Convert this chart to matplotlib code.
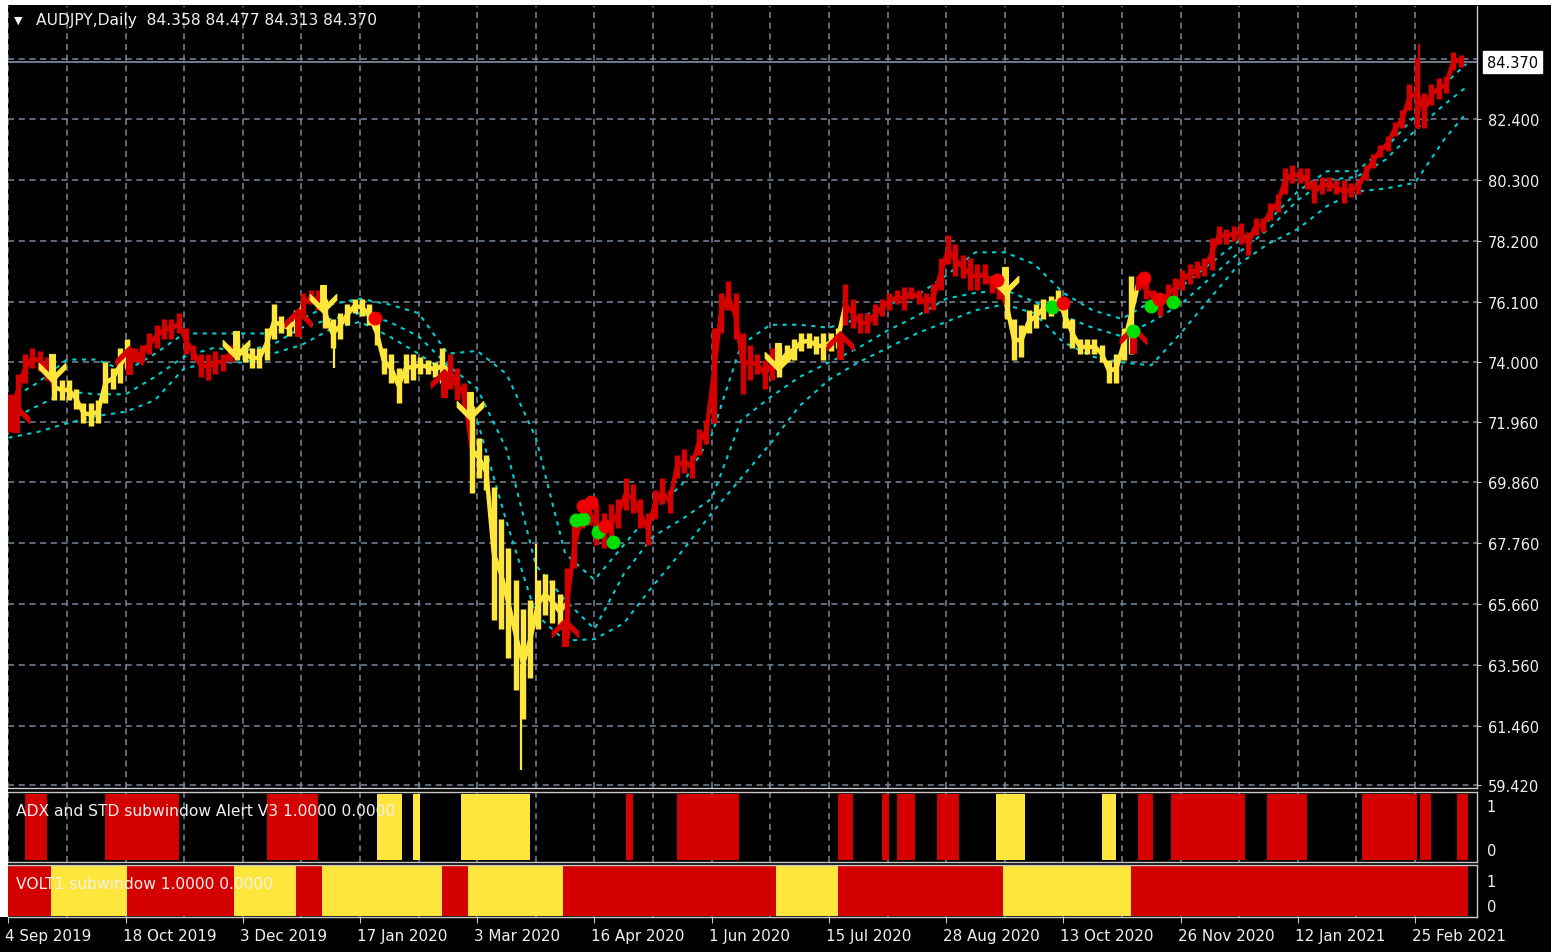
import matplotlib.pyplot as plt
from matplotlib.path import Path
from matplotlib.patches import Rectangle
from matplotlib.collections import LineCollection
from matplotlib.transforms import ScaledTranslation

# AUDJPY daily -- one high / low pair for every two trading days (bar = 2*i)
high = [72.9, 73.6, 74.3, 74.5, 74.4, 74.2, 73.6, 73.4, 73.4, 73.1,
        72.6, 72.6, 72.7, 74.0, 73.8, 74.5, 74.8, 74.5, 74.6, 75.0,
        75.3, 75.5, 75.5, 75.7, 75.2, 74.6, 74.3, 74.3, 74.4, 74.3,
        74.6, 74.8, 74.6, 74.5, 74.5, 75.2, 76.0, 75.6, 75.5, 75.8,
        76.4, 76.5, 76.5, 76.2, 75.5, 75.7, 76.0, 76.2, 76.2, 76.0,
        75.5, 74.5, 74.3, 73.8, 74.3, 74.3, 74.2, 74.1, 74.0, 74.5,
        74.3, 73.8, 73.3, 72.5, 71.4, 70.8, 69.7, 68.6, 67.6, 66.5,
        65.5, 65.8, 66.5, 66.7, 66.5, 66.0, 66.9, 68.4, 69.1, 69.3,
        69.1, 68.8, 69.1, 69.3, 70.0, 69.8, 69.3, 68.8, 69.6, 70.0,
        69.6, 70.8, 71.0, 70.8, 71.7, 72.0, 75.2, 76.4, 76.8, 76.4,
        75.0, 74.6, 74.3, 74.1, 74.5, 74.5, 74.6, 74.8, 75.0, 75.0,
        74.9, 75.0, 75.0, 75.2, 76.7, 76.2, 75.7, 75.7, 76.0, 76.2,
        76.4, 76.5, 76.6, 76.6, 76.5, 76.4, 76.7, 77.6, 78.4, 78.1,
        77.7, 77.6, 77.4, 77.4, 77.0, 76.9, 76.5, 75.5, 75.3, 75.8,
        76.0, 76.2, 76.3, 76.5, 76.0, 75.5, 74.8, 74.8, 74.8, 74.6,
        74.1, 74.3, 75.2, 77.0, 77.0, 76.9, 76.5, 76.4, 76.7, 76.9,
        77.2, 77.4, 77.5, 77.6, 78.3, 78.7, 78.6, 78.7, 78.8, 78.5,
        79.0, 79.0, 79.5, 79.8, 80.7, 80.8, 80.7, 80.7, 80.3, 80.4,
        80.4, 80.3, 80.3, 80.2, 80.3, 80.8, 81.2, 81.5, 81.8, 82.3,
        82.7, 83.6, 84.5, 83.3, 83.6, 83.8, 83.9, 84.7, 84.6]
low = [71.6, 72.4, 73.3, 73.8, 73.7, 73.4, 72.7, 72.7, 72.7, 72.4,
       71.9, 71.8, 71.9, 72.6, 73.1, 73.3, 73.8, 74.0, 74.0, 74.3,
       74.5, 74.8, 74.8, 75.0, 74.3, 74.1, 73.5, 73.4, 73.6, 73.7,
       74.0, 74.1, 74.0, 73.8, 73.8, 74.1, 74.8, 75.0, 74.9, 75.0,
       75.6, 76.0, 75.8, 75.2, 74.5, 74.8, 75.3, 75.7, 75.6, 75.3,
       74.6, 73.6, 73.3, 72.6, 73.3, 73.4, 73.6, 73.6, 73.5, 73.3,
       73.1, 72.7, 72.4, 69.5, 70.0, 69.6, 65.1, 64.8, 63.8, 62.7,
       61.7, 63.1, 64.8, 65.3, 65.0, 64.8, 64.5, 66.9, 68.3, 68.4,
       67.7, 67.6, 67.7, 68.3, 68.9, 68.8, 68.3, 67.7, 68.6, 69.1,
       68.8, 70.0, 70.2, 70.0, 70.8, 71.2, 71.9, 75.0, 75.8, 74.8,
       72.9, 73.4, 73.6, 73.1, 73.4, 73.5, 74.0, 74.1, 74.4, 74.5,
       74.3, 74.1, 74.4, 74.5, 75.3, 75.2, 75.0, 75.0, 75.3, 75.6,
       75.8, 76.0, 75.8, 76.2, 76.0, 75.7, 75.8, 76.5, 77.4, 77.0,
       76.9, 76.5, 76.5, 76.7, 76.4, 76.2, 75.5, 74.1, 74.2, 75.0,
       75.2, 75.5, 75.6, 75.8, 75.2, 74.5, 74.3, 74.3, 74.3, 74.0,
       73.3, 73.3, 74.1, 74.3, 76.5, 76.2, 76.0, 75.6, 76.0, 76.2,
       76.5, 76.7, 76.9, 77.0, 77.2, 78.1, 78.1, 78.2, 78.1, 77.7,
       78.4, 78.5, 78.9, 79.2, 79.8, 80.2, 80.2, 80.0, 79.5, 79.8,
       79.9, 79.8, 79.5, 79.7, 79.8, 80.3, 80.7, 81.1, 81.3, 81.8,
       82.1, 82.7, 82.1, 82.1, 82.9, 83.1, 83.3, 84.1, 84.2]

# single long wicks
spike_bar = [89, 140, 144, 385]
spike_price = [73.8, 59.95, 67.75, 85.0]

# VOLT1 state (also colours the price bars), run lengths in bars
volt_runs = [("r", 12), ("y", 21), ("r", 29), ("y", 17), ("r", 7), ("y", 33),
             ("r", 7), ("y", 26), ("r", 58), ("y", 17), ("r", 45), ("y", 35),
             ("r", 92)]
# ADX and STD state, n = nothing drawn
adx_runs = [("n", 5), ("r", 6), ("n", 16), ("r", 20), ("n", 24), ("r", 14),
            ("n", 16), ("y", 7), ("n", 3), ("y", 2), ("n", 11), ("y", 19),
            ("n", 26), ("r", 2), ("n", 12), ("r", 17), ("n", 27), ("r", 4),
            ("n", 8), ("r", 2), ("n", 2), ("r", 5), ("n", 6), ("r", 6),
            ("n", 10), ("y", 8), ("n", 21), ("y", 4), ("n", 6), ("r", 4),
            ("n", 5), ("r", 20), ("n", 6), ("r", 11), ("n", 15), ("r", 15),
            ("n", 1), ("r", 3), ("n", 7), ("r", 3)]

# the three cyan lines, sampled every 8 bars
line_bars = list(range(0, 393, 8)) + [398]
top_line = [72.7, 73.3, 74.1, 74.1, 73.7, 74.3, 75.0, 75.0, 75.0, 75.0,
            75.5, 76.0, 76.2, 76.0, 75.7, 74.3, 74.4, 73.6, 71.4, 67.4,
            66.5, 67.7, 68.9, 69.8, 71.5, 74.6, 75.3, 75.3, 75.2, 75.5,
            76.0, 76.3, 77.0, 77.8, 77.8, 77.4, 76.4, 75.8, 75.5, 76.1,
            76.6, 77.4, 78.2, 78.9, 79.9, 80.6, 80.6, 81.4, 82.5, 83.6,
            84.3]
mid_line = [72.0, 72.5, 73.0, 72.9, 72.9, 73.5, 74.2, 74.5, 74.4, 74.6,
            75.2, 75.5, 75.7, 75.4, 74.9, 73.9, 73.1, 71.0, 67.0, 65.8,
            64.8, 66.7, 68.0, 68.6, 69.3, 72.0, 72.8, 73.5, 74.0, 74.5,
            75.1, 75.6, 76.2, 76.4, 76.5, 76.1, 75.6, 75.2, 74.9, 75.4,
            76.0, 76.9, 77.8, 78.6, 79.6, 80.3, 80.4, 81.0, 82.0, 82.9,
            83.5]
bot_line = [71.4, 71.6, 71.9, 72.15, 72.3, 72.7, 73.8, 74.0, 74.0, 74.3,
            74.6, 75.15, 75.4, 74.9, 74.3, 73.6, 72.0, 68.5, 65.3, 64.4,
            64.45, 65.0, 66.3, 67.5, 68.8, 70.0, 71.2, 72.5, 73.4, 74.0,
            74.5, 75.0, 75.4, 75.8, 76.0, 75.7, 74.7, 74.2, 74.0, 73.9,
            75.0, 76.2, 77.4, 78.1, 78.6, 79.4, 79.9, 80.0, 80.2, 81.7,
            82.6]

# signal arrows and dots
sell_bar = [12, 62, 86, 126, 210, 272]
sell_price = [73.8, 74.6, 76.2, 72.5, 74.2, 76.8]
buy_bar = [2, 33, 79, 119, 152, 227, 307]
buy_price = [72.1, 74.1, 75.4, 73.3, 64.7, 74.6, 74.8]
green_dot_bar = [155, 157, 161, 165, 285, 307, 312, 318]
green_dot_price = [68.55, 68.6, 68.15, 67.8, 75.9, 75.1, 75.95, 76.1]
red_dot_bar = [100, 157, 159, 163, 270, 288, 310, 314]
red_dot_price = [75.55, 69.05, 69.2, 68.35, 76.85, 76.05, 76.9, 76.2]

last_price = 84.370
price_labels = ["82.400", "80.300", "78.200", "76.100", "74.000", "71.960",
                "69.860", "67.760", "65.660", "63.560", "61.460", "59.420"]
date_labels = ["4 Sep 2019", "18 Oct 2019", "3 Dec 2019", "17 Jan 2020",
               "3 Mar 2020", "16 Apr 2020", "1 Jun 2020", "15 Jul 2020",
               "28 Aug 2020", "13 Oct 2020", "26 Nov 2020", "12 Jan 2021",
               "25 Feb 2021"]

RED = "#d40000"
YEL = "#ffe63c"
CYAN = "#00ced1"
GRID = "#778899"
FRAME = "#c8c8c8"
TXT = "#f0f0f0"

plt.rcParams["font.family"] = ["DejaVu Sans"]


def expand(runs):
    out = []
    for s, n in runs:
        out += [s] * n
    return out


volt = expand(volt_runs)
adx = expand(adx_runs)

W, H = 1551, 953


def box(l, t, r, b):
    return [l / W, 1 - b / H, (r - l) / W, (b - t) / H]


fig = plt.figure(figsize=(W / 100, H / 100), dpi=100, facecolor="black")
# white screenshot margin at top and left
fig.patches.append(Rectangle((0, 1 - 6 / H), 1, 6 / H, transform=fig.transFigure,
                             fc="white", ec="none"))
fig.patches.append(Rectangle((0, 1 - 918 / H), 8 / W, 918 / H, transform=fig.transFigure,
                             fc="white", ec="none"))

ax = fig.add_axes(box(8, 7, 1477, 789))
ax1 = fig.add_axes(box(8, 793, 1477, 863), sharex=ax)
ax2 = fig.add_axes(box(8, 866, 1477, 918), sharex=ax)

for a in (ax, ax1, ax2):
    a.set_facecolor("black")
    for sp in a.spines.values():
        sp.set_color(FRAME)
        sp.set_linewidth(1.0)
    a.spines["left"].set_visible(False)
    a.set_xticks(range(0, 400, 32))
    a.set_xticks(range(16, 400, 32), minor=True)
    a.grid(True, which="both", axis="x", color=GRID, ls=(0, (4, 3)), lw=1.1, zorder=0)
    a.tick_params(which="minor", length=0)
    a.set_axisbelow(True)
ax.spines["top"].set_visible(False)

ax.set_xlim(-0.11, 400.93)

# ---- main price window ----
ax.set_ylim(59.315, 86.30)
ax.set_yticks([float(s) for s in price_labels])
ax.set_yticklabels(price_labels)
ax.grid(True, axis="y", color=GRID, ls=(0, (4, 3)), lw=1.1, zorder=0)
ax.axhline(84.47, color=GRID, ls=(0, (4, 3)), lw=1.1, zorder=0)
ax.yaxis.tick_right()
ax.tick_params(axis="y", length=3, color=FRAME, labelcolor=TXT, labelsize=10.5, pad=5)
ax.tick_params(axis="x", which="both", bottom=False, labelbottom=False)

for vals in (top_line, mid_line, bot_line):
    ax.plot(line_bars, vals, color=CYAN, lw=1.5, ls=(0, (2, 2.6)), zorder=2)

xs = [2 * i + 0.5 for i in range(len(high))]
gcol = [RED if volt[2 * i] == "r" else YEL for i in range(len(high))]
mids = [(h + l) / 2 for h, l in zip(high, low)]
segs = [[(xs[i], mids[i]), (xs[i + 1], mids[i + 1])] for i in range(len(xs) - 1)]
ax.add_collection(LineCollection(segs, colors=gcol[:-1], lw=3.2, zorder=3))
ax.vlines(xs, low, high, colors=gcol, lw=3.9, zorder=3)
for b, p in zip(spike_bar, spike_price):
    g = b // 2
    ax.vlines(b, mids[g], p, colors=gcol[g], lw=1.6, zorder=3)

ax.axhline(last_price, color=GRID, lw=1.3, zorder=2)

up = Path([(0, 1), (0.95, 0.05), (0.95, -0.35), (0.2, 0.4), (0.2, -1),
           (-0.2, -1), (-0.2, 0.4), (-0.95, -0.35), (-0.95, 0.05), (0, 1)])
down = Path([(x, -y) for x, y in up.vertices])
ax.plot(sell_bar, sell_price, ls="none", marker=down, ms=20, mfc=YEL, mec=YEL, zorder=5)
ax.plot(buy_bar, buy_price, ls="none", marker=up, ms=20, mfc=RED, mec=RED, zorder=5)
ax.plot(green_dot_bar, green_dot_price, "o", ms=9, color="#00e000", zorder=6)
ax.plot(red_dot_bar, red_dot_price, "o", ms=9, color="#f00000", zorder=6)

# ---- ADX subwindow ----
ax1.set_ylim(-0.03, 1.03)
ax1.set_yticks([])
ax1.tick_params(axis="x", which="both", bottom=False, labelbottom=False)
for i, s in enumerate(adx):
    if s != "n":
        ax1.bar(i, 1, width=1.0, color=RED if s == "r" else YEL, lw=0, zorder=2)
ax1.text(0.0055, 0.74, "ADX and STD subwindow Alert V3 1.0000 0.0000",
         transform=ax1.transAxes, color=TXT, fontsize=11.2, va="center", zorder=5)
ax1.text(1.0065, 0.79, "1", transform=ax1.transAxes, color=TXT, fontsize=10.5, va="center")
ax1.text(1.0065, 0.16, "0", transform=ax1.transAxes, color=TXT, fontsize=10.5, va="center")

# ---- VOLT subwindow ----
ax2.set_ylim(-0.03, 1.03)
ax2.set_yticks([])
for i, s in enumerate(volt):
    ax2.bar(i, 1, width=1.0, color=RED if s == "r" else YEL, lw=0, zorder=2)
ax2.text(0.0055, 0.64, "VOLT1 subwindow 1.0000 0.0000",
         transform=ax2.transAxes, color=TXT, fontsize=11.2, va="center", zorder=5)
ax2.text(1.0065, 0.69, "1", transform=ax2.transAxes, color=TXT, fontsize=10.5, va="center")
ax2.text(1.0065, 0.21, "0", transform=ax2.transAxes, color=TXT, fontsize=10.5, va="center")

ax2.set_xticklabels(date_labels)
ax2.tick_params(axis="x", which="major", length=4, color=FRAME, labelcolor=TXT,
                labelsize=10.9, pad=4)
shift = ScaledTranslation(-3 / 100, 0, fig.dpi_scale_trans)
for lab in ax2.get_xticklabels():
    lab.set_horizontalalignment("left")
    lab.set_transform(lab.get_transform() + shift)

# ---- header / price box ----
fig.text(14 / W, 1 - 21 / H, "\u25bc", color=TXT, fontsize=8, va="center")
fig.text(36 / W, 1 - 21 / H, "AUDJPY,Daily  84.358 84.477 84.313 84.370",
         color=TXT, fontsize=11.2, va="center")
fig.text(1487 / W, 1 - 63 / H, "84.370", color="black", fontsize=10.5, va="center",
         bbox=dict(boxstyle="square,pad=0.25", fc="white", ec="white"))

fig.savefig("out.png", dpi=100, facecolor="black")
